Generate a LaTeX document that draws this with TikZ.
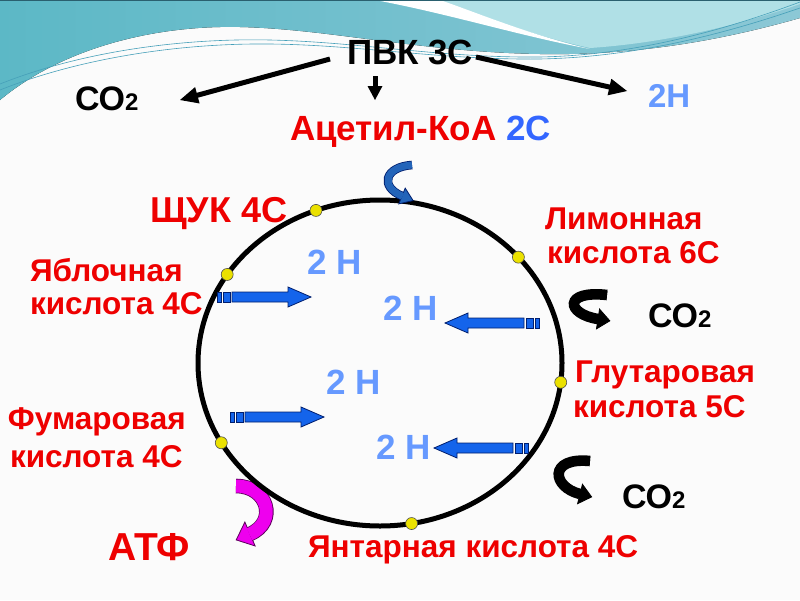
\documentclass[tikz,border=0pt]{standalone}
\usepackage{fontspec}
\setmainfont{Liberation Sans}
\usetikzlibrary{calc}
\definecolor{lblred}{RGB}{238,0,0}
\definecolor{hblue}{RGB}{102,153,255}
\definecolor{cblue}{RGB}{51,102,255}
\definecolor{arrblue}{RGB}{20,100,235}
\definecolor{arrline}{RGB}{0,30,110}
\definecolor{curvblue}{RGB}{35,100,185}
\definecolor{magarr}{RGB}{238,0,238}
\definecolor{magline}{RGB}{90,0,90}
\definecolor{dotyel}{RGB}{235,225,0}
\definecolor{tealA}{RGB}{92,184,198}
\definecolor{tealB}{RGB}{140,200,214}
\definecolor{tealC}{RGB}{176,224,230}
\definecolor{tealline}{RGB}{70,160,185}
\newcommand\fsz[2]{\fontsize{#1}{#2}\selectfont}
% block arrow: tail x, y, direction
\newcommand\blockarr[3]{%
  \begin{scope}[shift={(#1,#2)}, xscale=#3]
    \filldraw[barrow] (0,-5) rectangle (4,5);
    \filldraw[barrow] (6,-5) rectangle (13,5);
    \filldraw[barrow] (15,-5) -- (71,-5) -- (71,-10) -- (94,0) -- (71,10) -- (71,5) -- (15,5) -- cycle;
  \end{scope}}
% bent arrow: fill, width, head half width, head length, P0, P1, P2, B, outline
\newcommand\bentarr[9]{%
  \coordinate (ba) at #8;
  \coordinate (bc) at #7;
  \coordinate (bt) at ($(ba)!-#4!(bc)$);
  \draw[line width=#2+1.6pt, draw=#9] #5 .. controls #6 and #7 .. (ba);
  \filldraw[fill=#1, draw=#9, line width=0.8pt, line join=miter] ($(ba)!#3!90:(bt)$) -- (bt) -- ($(ba)!#3!-90:(bt)$) -- cycle;
  \draw[line width=#2, draw=#1] #5 .. controls #6 and #7 .. ($(ba)!-0.6pt!(bc)$);
}
\begin{document}
\begin{tikzpicture}[x=1pt,y=-1pt,
  lbl/.style={anchor=base west, inner sep=0pt, outer sep=0pt, font=\bfseries},
  redlbl/.style={lbl, text=lblred, font=\bfseries\fsz{31.5}{34}},
  hlbl/.style={lbl, text=hblue, font=\bfseries\fsz{35}{38}},
  barrow/.style={fill=arrblue, draw=arrline, line width=0.8pt},
  bigarrow/.style={line width=5pt, draw=black},
  dotc/.style={circle, fill=dotyel, draw=black!70, line width=0.6pt, minimum size=12pt, inner sep=0pt}]
\useasboundingbox (0,0) rectangle (800,600);
\fill[white!97!gray] (0,0) rectangle (800,600);
% ---- background wave ----
\fill[left color=tealA, right color=tealB]
  (0,0) -- (800,0) -- (800,18) .. controls (740,35) and (650,56) .. (540,54)
  .. controls (420,52) and (330,29) .. (240,27)
  .. controls (150,25) and (60,50) .. (0,100) -- cycle;
\fill[tealC] (430,0) .. controls (470,12) and (530,35) .. (590,48)
  .. controls (680,42) and (760,18) .. (800,4) -- (800,0) -- cycle;
\fill[white] (375,0) .. controls (450,14) and (520,36) .. (590,49)
  .. controls (530,35) and (475,12) .. (440,0) -- cycle;
\draw[tealline, line width=0.6pt] (0,84) .. controls (80,52) and (180,38) .. (270,40)
  .. controls (360,42) and (440,58) .. (540,57) .. controls (640,55) and (730,28) .. (800,2);
\draw[tealline, line width=0.6pt] (0,90) .. controls (80,58) and (180,43) .. (270,44)
  .. controls (360,45) and (440,60) .. (540,59) .. controls (640,57) and (730,32) .. (800,8);
\draw[tealline!60!black, line width=1.2pt] (0,0.6) -- (800,0.6);
% ---- top labels ----
\node[lbl, font=\bfseries\fsz{35}{38}] (pvk) at (347,64) {ПВК 3С};
\node[lbl] (co2a) at (75,110) {\fsz{34}{36}СО\fsz{24}{26}2};
\node[lbl, text=hblue, font=\bfseries\fsz{33}{36}] (h2top) at (648,107) {2Н};
\node[lbl, text=lblred, font=\bfseries\fsz{35}{38}] (acet) at (290,140) {Ацетил-КоА \textcolor{cblue}{2С}};
\coordinate (pL) at (330,59);
\coordinate (pM) at (375,76);
\coordinate (pR) at (476,57);
\coordinate (tL) at (180,100);
\coordinate (tM) at (375,100);
\coordinate (tR) at (627,91);
\draw[bigarrow] (pL) -- ($(tL)!16pt!(pL)$);
\coordinate (hL) at ($(tL)!18pt!(pL)$);
\fill (tL) -- ($(hL)!8.5pt!90:(tL)$) -- ($(hL)!8.5pt!-90:(tL)$) -- cycle;
\draw[bigarrow] (pM) -- ($(tM)!12pt!(pM)$);
\coordinate (hM) at ($(tM)!14pt!(pM)$);
\fill (tM) -- ($(hM)!7.5pt!90:(tM)$) -- ($(hM)!7.5pt!-90:(tM)$) -- cycle;
\draw[bigarrow] (pR) -- ($(tR)!16pt!(pR)$);
\coordinate (hR) at ($(tR)!18pt!(pR)$);
\fill (tR) -- ($(hR)!8.5pt!90:(tR)$) -- ($(hR)!8.5pt!-90:(tR)$) -- cycle;
% ---- bent arrows under the cycle ----
\bentarr{magarr}{13pt}{13pt}{15pt}{(236,486)}{(268,486)}{(278,522)}{(250,534)}{magline}
\bentarr{black}{9pt}{10pt}{12pt}{(607,295)}{(563,290)}{(566,314)}{(598,319)}{black}
\bentarr{black}{9pt}{10pt}{12pt}{(590,461)}{(548,457)}{(552,487)}{(580,494)}{black}
% ---- cycle ----
\coordinate (C) at (380,363);
\draw[line width=5pt] (C) ellipse [x radius=182, y radius=163];
\bentarr{curvblue}{7pt}{8.5pt}{12pt}{(412,165)}{(384,167)}{(380,187)}{(402,196)}{arrline}
\node[dotc] (d1) at ($(C)+(-110.6:182 and 163)$) {};
\node[dotc] (d2) at ($(C)+(-40.5:182 and 163)$) {};
\node[dotc] (d3) at ($(C)+(6.8:182 and 163)$) {};
\node[dotc] (d4) at ($(C)+(80:182 and 163)$) {};
\node[dotc] (d5) at ($(C)+(150.7:182 and 163)$) {};
\node[dotc] (d6) at ($(C)+(212.9:182 and 163)$) {};
% ---- block arrows ----
\blockarr{217}{297}{1}
\blockarr{539}{323}{-1}
\blockarr{230}{417}{1}
\blockarr{528}{448}{-1}
% ---- 2 H labels ----
\node[hlbl] (h1) at (307,274) {2 Н};
\node[hlbl] (h2) at (383,320) {2 Н};
\node[hlbl] (h3) at (326,394) {2 Н};
\node[hlbl] (h4) at (376,459) {2 Н};
% ---- cycle labels ----
\node[lbl, text=lblred, font=\bfseries\fsz{36}{38}] (shuk) at (150,222) {ЩУК 4С};
\node[redlbl] (lim1) at (545,229) {Лимонная};
\node[redlbl] (lim2) at (547,263) {кислота 6С};
\node[redlbl] (ya1) at (30,281) {Яблочная};
\node[redlbl] (ya2) at (30,314) {кислота 4С};
\node[redlbl] (gl1) at (575,382) {Глутаровая};
\node[redlbl] (gl2) at (573,417) {кислота 5С};
\node[redlbl] (fu1) at (8,429) {Фумаровая};
\node[redlbl] (fu2) at (10,467) {кислота 4С};
\node[redlbl] (yan) at (308,557) {Янтарная кислота 4С};
\node[lbl, text=lblred, font=\bfseries\fsz{39}{42}] (atf) at (108,560) {АТФ};
\node[lbl] (co2b) at (648,327) {\fsz{34}{36}СО\fsz{24}{26}2};
\node[lbl] (co2c) at (622,508) {\fsz{34}{36}СО\fsz{24}{26}2};
\end{tikzpicture}
\end{document}
